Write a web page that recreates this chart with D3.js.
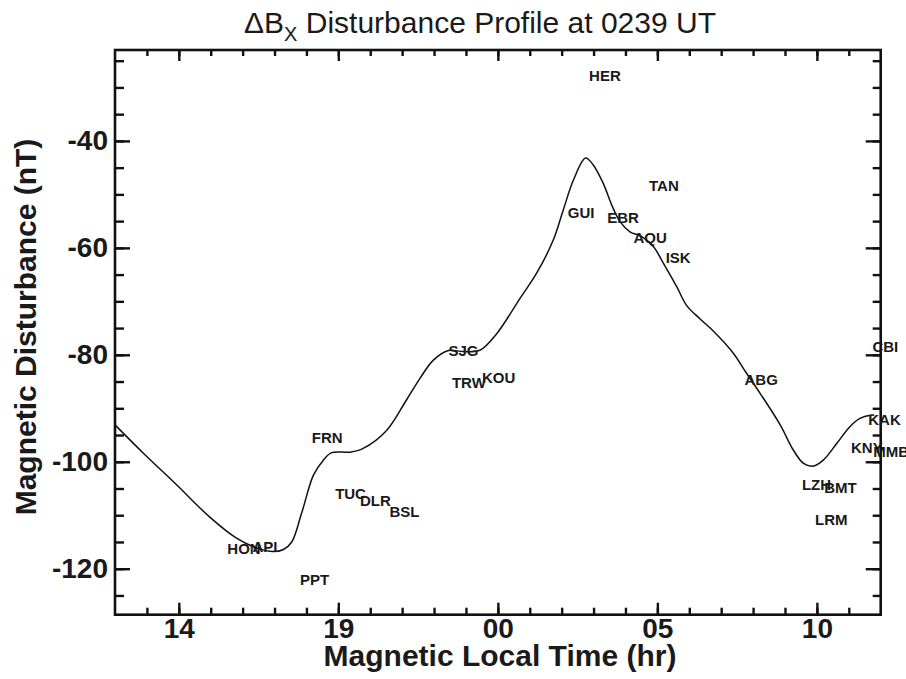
<!DOCTYPE html>
<html>
<head>
<meta charset="utf-8">
<script src="https://cdn.jsdelivr.net/npm/d3@7"></script>
<style>
  html, body { margin: 0; padding: 0; background: #fff; }
  svg { display: block; }
</style>
</head>
<body>
<svg id="chart"></svg>
<script>
// profile curve: magnetic local time (hr, continuing past 24) and disturbance (nT)
const curveMlt = [12.0, 12.89, 13.93, 14.98, 15.81, 16.34, 16.96, 17.28, 17.54, 17.85, 18.22, 18.53, 18.79,
  19.37, 19.78, 20.52, 21.14, 21.56, 21.98, 22.45, 22.92, 23.45, 23.97, 24.70, 25.22, 25.74, 26.05,
  26.37, 26.75, 26.99, 27.30, 27.57, 27.83, 28.14, 28.51, 28.88, 29.19, 29.61, 29.92, 30.34, 30.76,
  31.38, 31.80, 32.22, 32.85, 33.26, 33.58, 33.89, 34.20, 34.62, 35.04, 35.35, 35.67, 35.8];
const curveDB = [-93.1, -98.4, -104.3, -110.4, -114.3, -115.9, -116.8, -116.4, -115.0, -109.6, -102.5, -99.7, -98.3,
  -98.2, -97.5, -94.1, -88.4, -84.4, -81.0, -79.2, -79.4, -79.1, -76.0, -69.4, -64.7, -58.5, -52.9,
  -47.3, -43.2, -44.5, -47.9, -52.0, -55.1, -57.0, -57.9, -59.8, -62.9, -67.3, -70.8, -73.3, -75.6,
  -79.7, -83.5, -87.2, -93.1, -97.8, -100.3, -100.8, -99.7, -96.6, -93.4, -91.9, -91.3, -91.3];

// station labels
const stations = ["HER", "TAN", "GUI", "EBR", "AQU", "ISK", "SJG", "TRW", "KOU", "ABG", "CBI", "KAK",
  "KNY", "MMB", "LZH", "BMT", "LRM", "FRN", "TUC", "DLR", "BSL", "HON", "API", "PPT"];
const stationMlt = [26.86, 28.74, 26.19, 27.43, 28.25, 29.26, 22.45, 22.56, 23.50, 31.73, 35.74, 35.61,
  35.07, 35.77, 33.53, 34.23, 33.94, 18.17, 18.90, 19.68, 20.60, 15.52, 16.31, 17.80];
const stationDB = [-28.8, -49.3, -54.5, -55.3, -59.0, -62.9, -80.3, -86.3, -85.2, -85.6, -79.5, -93.1,
  -98.4, -99.1, -105.2, -105.9, -111.8, -96.4, -107.0, -108.3, -110.4, -117.3, -116.8, -123.1];

const xMajorTicks = [14, 19, 24, 29, 34];
const yMajorTicks = [-120, -100, -80, -60, -40];

const width = 906;
const height = 679;
const margin = { top: 50, right: 25.3, bottom: 64.3, left: 115 };

const svg = d3.select("#chart")
    .attr("width", width)
    .attr("height", height)
    .attr("viewBox", [0, 0, width, height]);

const x = d3.scaleLinear()
    .domain([12, 36])
    .range([margin.left, width - margin.right]);

const y = d3.scaleLinear()
    .domain([-128.6, -23.0])
    .range([height - margin.bottom, margin.top]);

const font = "'Liberation Sans', Arial, Helvetica, sans-serif";

// axes, ticks inward
const axisStyle = g => {
    g.select(".domain").remove();
    g.selectAll(".tick line").attr("stroke", "#111").attr("stroke-width", 2.4);
    g.selectAll("text")
        .attr("fill", "#1a1a1a")
        .style("font-family", font)
        .style("font-weight", "bold")
        .style("font-size", "28px");
};

const xMinor = d3.range(13, 36);
const yMinor = d3.range(-125, -23, 5);

svg.append("g")
    .attr("transform", `translate(0,${height - margin.bottom})`)
    .call(d3.axisBottom(x).tickValues(xMinor).tickSize(-7).tickFormat(""))
    .call(axisStyle);
svg.append("g")
    .attr("transform", `translate(0,${height - margin.bottom})`)
    .call(d3.axisBottom(x).tickValues(xMajorTicks).tickSize(-12).tickPadding(3)
        .tickFormat(d => d3.format("02d")(d % 24)))
    .call(axisStyle);
svg.append("g")
    .attr("transform", `translate(0,${margin.top})`)
    .call(d3.axisTop(x).tickValues(xMinor).tickSize(-6).tickFormat(""))
    .call(axisStyle);
svg.append("g")
    .attr("transform", `translate(0,${margin.top})`)
    .call(d3.axisTop(x).tickValues(xMajorTicks).tickSize(-11).tickFormat(""))
    .call(axisStyle);

svg.append("g")
    .attr("transform", `translate(${margin.left},0)`)
    .call(d3.axisLeft(y).tickValues(yMinor).tickSize(-9).tickFormat(""))
    .call(axisStyle);
svg.append("g")
    .attr("transform", `translate(${margin.left},0)`)
    .call(d3.axisLeft(y).tickValues(yMajorTicks).tickSize(-15).tickPadding(7).tickFormat(d => String(d)))
    .call(axisStyle);
svg.append("g")
    .attr("transform", `translate(${width - margin.right},0)`)
    .call(d3.axisRight(y).tickValues(yMinor).tickSize(-8).tickFormat(""))
    .call(axisStyle);
svg.append("g")
    .attr("transform", `translate(${width - margin.right},0)`)
    .call(d3.axisRight(y).tickValues(yMajorTicks).tickSize(-15).tickFormat(""))
    .call(axisStyle);

// frame
svg.append("rect")
    .attr("x", margin.left)
    .attr("y", margin.top)
    .attr("width", width - margin.left - margin.right)
    .attr("height", height - margin.top - margin.bottom)
    .attr("fill", "none")
    .attr("stroke", "#111")
    .attr("stroke-width", 2.6);

// profile line
const line = d3.line()
    .x(i => x(curveMlt[i]))
    .y(i => y(curveDB[i]))
    .curve(d3.curveCatmullRom);

svg.append("path")
    .datum(d3.range(curveMlt.length))
    .attr("d", line)
    .attr("fill", "none")
    .attr("stroke", "#111")
    .attr("stroke-width", 1.5);

// station names
svg.append("g")
    .selectAll("text")
    .data(stations)
    .join("text")
    .attr("x", (d, i) => x(stationMlt[i]))
    .attr("y", (d, i) => y(stationDB[i]))
    .attr("fill", "#1a1a1a")
    .style("font-family", font)
    .style("font-weight", "bold")
    .style("font-size", "15px")
    .text(d => d);

// title
const title = svg.append("text")
    .attr("x", 480)
    .attr("y", 33)
    .attr("text-anchor", "middle")
    .attr("fill", "#1a1a1a")
    .style("font-family", font)
    .style("font-size", "30px");
title.append("tspan").text("ΔB");
title.append("tspan").attr("dy", 8).style("font-size", "20px").text("X");
title.append("tspan").attr("dy", -8).text(" Disturbance Profile at 0239 UT");

// axis titles
svg.append("text")
    .attr("x", 500)
    .attr("y", 666)
    .attr("text-anchor", "middle")
    .attr("fill", "#1a1a1a")
    .style("font-family", font)
    .style("font-weight", "bold")
    .style("font-size", "30px")
    .text("Magnetic Local Time (hr)");

svg.append("text")
    .attr("transform", "rotate(-90)")
    .attr("x", -327)
    .attr("y", 36)
    .attr("text-anchor", "middle")
    .attr("fill", "#1a1a1a")
    .style("font-family", font)
    .style("font-weight", "bold")
    .style("font-size", "30px")
    .text("Magnetic Disturbance (nT)");
</script>
</body>
</html>
